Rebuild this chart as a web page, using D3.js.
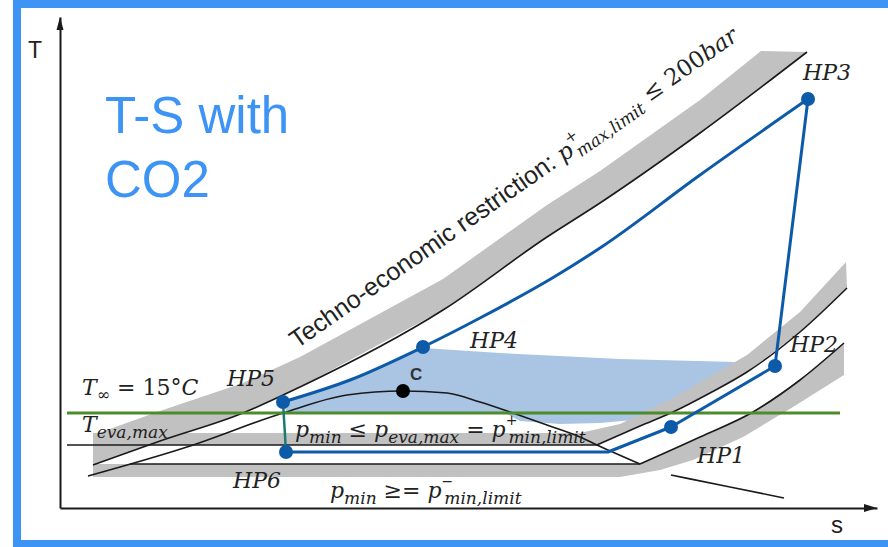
<!DOCTYPE html>
<html><head><meta charset="utf-8">
<script src="https://cdn.jsdelivr.net/npm/d3@7"></script>
<style>html,body{margin:0;padding:0;background:#fff;} svg{display:block;}</style>
</head><body>
<svg id="chart" width="888" height="547"></svg>
<script>
// ---------- data (s, T in arbitrary schematic units) ----------
const upperIsobar   = [[0.33,0.43],[1.00,0.67],[1.83,0.95],[2.40,1.21],[3.83,1.98],[4.87,2.71],[5.40,3.05],[6.40,3.75],[7.47,4.56]];
const upperBandTop  = [[0.33,0.73],[1.00,0.97],[1.83,1.25],[2.40,1.51],[3.83,2.29],[4.87,3.03],[5.40,3.37],[6.40,4.08],[7.01,4.57]];
const midIsobarFlat = [[0.07,0.63],[5.37,0.63]];
const midIsobarRise = [[5.37,0.63],[5.80,0.82],[6.13,0.96],[6.50,1.15],[6.87,1.36],[7.40,1.76],[7.87,2.20]];
const midBandTop    = [[0.33,0.75],[5.20,0.75],[5.60,0.84],[6.13,1.10],[6.87,1.53],[7.40,1.96],[7.86,2.46]];
const midBandBottom = [[0.33,0.63],[5.37,0.63],[5.80,0.82],[6.13,0.96],[6.50,1.15],[6.87,1.36],[7.40,1.76],[7.87,2.20]];
const lowIsobarFlat = [[0.70,0.44],[5.80,0.44]];
const lowIsobarRise = [[5.80,0.44],[6.40,0.71],[6.93,0.96],[7.40,1.28],[7.84,1.65]];
const lowBandTop    = [[0.33,0.44],[5.80,0.44],[6.40,0.71],[6.93,0.96],[7.40,1.28],[7.84,1.65]];
const lowBandBottom = [[0.33,0.31],[5.60,0.31],[6.00,0.38],[6.33,0.48],[6.83,0.71],[7.33,1.01],[7.84,1.33]];
const domeMain      = [[0.28,0.32],[1.27,0.61],[2.23,0.95],[2.87,1.13],[3.43,1.17],[3.87,1.15],[4.20,1.06],[4.53,0.95],[4.87,0.83],[5.20,0.71],[5.37,0.63],[5.80,0.44]];
const domeTail      = [[6.11,0.33],[6.70,0.21],[7.24,0.10]];
const criticalPoint = [3.43,1.17];
const statePoints = [
  {name:"HP1", s:6.11, T:0.81},
  {name:"HP2", s:7.15, T:1.42},
  {name:"HP3", s:7.48, T:4.09},
  {name:"HP4", s:3.63, T:1.61},
  {name:"HP5", s:2.23, T:1.06},
  {name:"HP6", s:2.26, T:0.56}
];
const evapBend   = [5.48,0.56];
const gasCooler  = [[2.23,1.06],[2.90,1.28],[3.63,1.61],[4.20,1.90],[4.94,2.31],[5.40,2.60],[6.40,3.33],[7.48,4.09]];
const fillRegion = [[2.23,1.06],[2.90,1.28],[3.63,1.60],[4.40,1.55],[5.60,1.49],[6.75,1.46],[6.30,1.10],[5.95,0.90],[5.40,0.85],[5.00,0.84],[4.60,0.87],[4.45,0.95],[2.27,0.95]];
const envTemp    = {T:0.95, s0:0.07, s1:7.80};
const hpLabels = [
  {t:"HP3", s:7.43, T:4.28},
  {t:"HP2", s:7.30, T:1.56},
  {t:"HP1", s:6.37, T:0.45},
  {t:"HP4", s:4.10, T:1.60},
  {t:"HP5", s:1.67, T:1.22},
  {t:"HP6", s:1.73, T:0.20}
];

// ---------- setup ----------
const svg = d3.select("#chart");
const x = d3.scaleLinear().domain([0,8.17]).range([60,877]);
const y = d3.scaleLinear().domain([0,4.91]).range([508,17]);
const P = d => [x(d[0]), y(d[1])];

const BLUE="#0d5ba8", GRAY="#c1c1c1", FILL="#a9c5e3", GREEN="#4c8c2b", TEAL="#1d7a70";
const SERIF="'DejaVu Serif', serif", SANS="'Liberation Sans', Arial, sans-serif";

// frame
svg.append("rect").attr("x",17).attr("y",4).attr("width",900).attr("height",540)
  .attr("fill","none").attr("stroke","#3d94f5").attr("stroke-width",8);

const poly = (top,bottom) => "M" + top.map(P).join("L") + "L" + bottom.slice().reverse().map(P).join("L") + "Z";
const lineLin = d3.line().x(d=>x(d[0])).y(d=>y(d[1]));
const lineMono = d3.line().x(d=>x(d[0])).y(d=>y(d[1])).curve(d3.curveMonotoneX);

// blue region
svg.append("path").attr("d","M"+fillRegion.map(P).join("L")+"Z").attr("fill",FILL);

// gray bands
svg.append("path").attr("d",poly(upperBandTop,upperIsobar)).attr("fill",GRAY);
svg.append("path").attr("d",poly(midBandTop,midBandBottom)).attr("fill",GRAY);
svg.append("path").attr("d",poly(lowBandTop,lowBandBottom)).attr("fill",GRAY);

// black lines
const blk = g => g.attr("fill","none").attr("stroke","#1a1a1a").attr("stroke-width",1.6);
svg.append("path").attr("d",lineMono(upperIsobar)).call(blk);
svg.append("path").attr("d",lineLin(midIsobarFlat)).call(blk);
svg.append("path").attr("d",lineMono(midIsobarRise)).call(blk);
svg.append("path").attr("d",lineLin(lowIsobarFlat)).call(blk);
svg.append("path").attr("d",lineMono(lowIsobarRise)).call(blk);
svg.append("path").attr("d",lineMono(domeMain)).call(blk);
svg.append("path").attr("d",lineMono(domeTail)).call(blk);

// green line
svg.append("line").attr("x1",x(envTemp.s0)).attr("x2",x(envTemp.s1))
  .attr("y1",y(envTemp.T)).attr("y2",y(envTemp.T)).attr("stroke",GREEN).attr("stroke-width",3);

// cycle
const sp = Object.fromEntries(statePoints.map(d=>[d.name,[d.s,d.T]]));
svg.append("path").attr("d",lineLin([sp.HP6, evapBend, sp.HP1, sp.HP2, sp.HP3]))
  .attr("fill","none").attr("stroke",BLUE).attr("stroke-width",3).attr("stroke-linejoin","round");
svg.append("path").attr("d",lineMono(gasCooler))
  .attr("fill","none").attr("stroke",BLUE).attr("stroke-width",3);
svg.append("path").attr("d",lineLin([sp.HP5, sp.HP6]))
  .attr("fill","none").attr("stroke",TEAL).attr("stroke-width",2.5);
svg.selectAll("circle.hp").data(statePoints).join("circle").attr("class","hp")
  .attr("cx",d=>x(d.s)).attr("cy",d=>y(d.T)).attr("r",7).attr("fill",BLUE);
svg.append("circle").attr("cx",x(criticalPoint[0])).attr("cy",y(criticalPoint[1])).attr("r",7).attr("fill","#000");

// axes (no ticks) with arrowheads
const xAxis = d3.axisBottom(x).tickValues([]).tickSizeOuter(0);
const yAxis = d3.axisLeft(y).tickValues([]).tickSizeOuter(0);
svg.append("g").attr("transform",`translate(0,${y(0)})`).call(xAxis)
  .select(".domain").attr("stroke","#1a1a1a").attr("stroke-width",2);
svg.append("g").attr("transform",`translate(${x(0)},0)`).call(yAxis)
  .select(".domain").attr("stroke","#1a1a1a").attr("stroke-width",2);
const xe = x.range()[1], ye = y.range()[1];
svg.append("path").attr("d",`M${xe},${y(0)}L${xe-13},${y(0)-4}L${xe-13},${y(0)+4}Z`).attr("fill","#1a1a1a");
svg.append("path").attr("d",`M${x(0)},${ye}L${x(0)-3.5},${ye+13}L${x(0)+3.5},${ye+13}Z`).attr("fill","#1a1a1a");
svg.append("text").attr("x",28).attr("y",58).attr("font-family",SANS).attr("font-size",23).attr("fill","#222").text("T");
svg.append("text").attr("x",831).attr("y",533).attr("font-family",SANS).attr("font-size",24).attr("fill","#222").text("s");

// title
const title = svg.append("text").attr("font-family",SANS).attr("font-size",51).attr("fill","#3d94f5");
title.append("tspan").attr("x",105).attr("y",133).text("T-S with");
title.append("tspan").attr("x",105).attr("y",197).text("CO2");

// labels
svg.selectAll("text.hpl").data(hpLabels).join("text").attr("class","hpl")
  .attr("x",d=>x(d.s)).attr("y",d=>y(d.T))
  .attr("font-family",SERIF).attr("font-style","italic").attr("font-size",22).attr("fill","#222")
  .text(d=>d.t);
svg.append("text").attr("x",x(3.50)).attr("y",y(1.28)).attr("font-family",SANS).attr("font-size",17)
  .attr("font-weight","bold").attr("fill","#333").text("C");

function mathText(xp, yp, runs, size){
  const t = svg.append("text").attr("x",xp).attr("y",yp).attr("font-family",SERIF)
    .attr("font-style","italic").attr("font-size",size||22).attr("fill","#222");
  let cur=0;
  runs.forEach(r=>{
    const off=r.off||0;
    const ts=t.append("tspan").text(r.t).attr("dy",off-cur);
    cur=off;
    if(r.size) ts.attr("font-size",r.size);
    if(r.dx) ts.attr("dx",r.dx);
    if(r.up) ts.attr("font-style","normal");
    if(r.fam) ts.attr("font-family",r.fam);
  });
  return t;
}
mathText(x(0.22), y(1.13), [{t:"T"},{t:"∞",size:16,off:5,up:1},{t:" = 15°",up:1},{t:"C"}]);
mathText(x(0.22), y(0.76), [{t:"T"},{t:"eva,max",size:17,off:6}]);
mathText(x(2.35), y(0.71), [{t:"p"},{t:"min",size:17,off:6},{t:" ≤ ",up:1},{t:"p"},{t:"eva,max",size:17,off:6},
  {t:" = ",up:1},{t:"p"},{t:"+",size:14,off:-12,up:1},{t:"min,limit",size:17,off:6,dx:-9}]);
mathText(x(2.70), y(0.10), [{t:"p"},{t:"min",size:17,off:6},{t:" ≥= ",up:1},{t:"p"},
  {t:"−",size:14,off:-12,up:1},{t:"min,limit",size:17,off:6,dx:-9}]);

// rotated restriction label
const rx = x(2.37), ry = y(1.59);
const rt = mathText(0, 0, [{t:"Techno-economic restriction: ",fam:SANS,up:1,size:25},{t:"p"},
  {t:"+",size:15,off:-12,up:1},{t:"max,limit",size:17,off:6,dx:-10},{t:" ≤ 200",up:1},{t:"bar"}], 23);
rt.attr("transform",`translate(${rx},${ry}) rotate(-35)`);
</script>
</body></html>
